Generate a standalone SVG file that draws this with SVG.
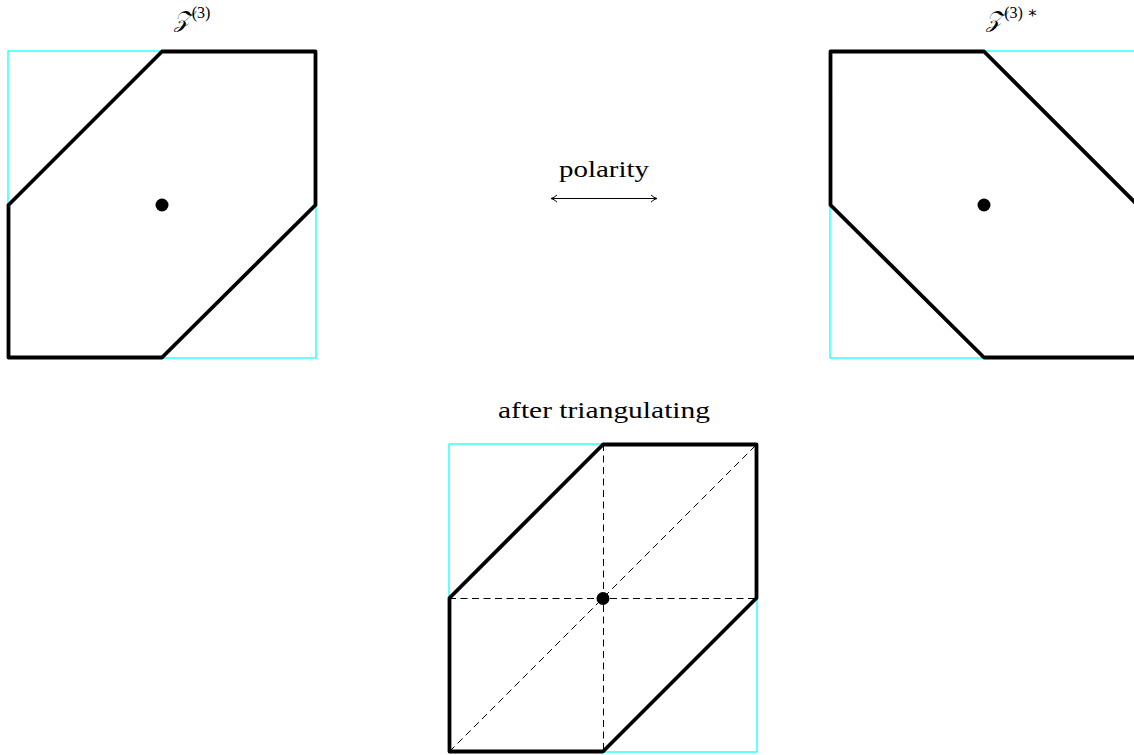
<svg xmlns="http://www.w3.org/2000/svg" width="1134" height="755" viewBox="0 0 1134 755">
<style>
.bg{fill:#fff}
.sq{fill:none;stroke:#00ffff;stroke-width:1.2}
.hex{fill:none;stroke:#000;stroke-width:3.8;stroke-linejoin:round}
.dash{fill:none;stroke:#000;stroke-width:1;stroke-dasharray:7,4.5}
.dot{fill:#000}
.lbl{font-family:"Liberation Serif","DejaVu Serif",serif;font-size:23px;fill:#000}
.conn{fill:none;stroke:#000;stroke-width:1}
</style>
<defs>
<marker id="ah" markerWidth="10" markerHeight="10" refX="7" refY="5" orient="auto-start-reverse" markerUnits="userSpaceOnUse">
<path d="M1,1.5 Q4,4.2 7,5 Q4,5.8 1,8.5" fill="none" stroke="#000" stroke-width="1"/>
</marker>
</defs>
<rect class="bg" x="0" y="0" width="1134" height="755"/>
<g id="z3">
<rect class="sq" x="8" y="51" width="308" height="307"/>
<polygon class="hex" points="8.5,205 162,51.5 315.5,51.5 315.5,205 162,357.5 8.5,357.5"/>
<circle class="dot" cx="162" cy="205" r="6.5"/>
<text class="lbl" x="192" y="27" text-anchor="middle"><tspan font-style="italic">𝒵</tspan><tspan font-size="16" dy="-9">(3)</tspan></text>
</g>
<g id="z3star">
<rect class="sq" x="830" y="51" width="308" height="307"/>
<polygon class="hex" points="830.5,51.5 984,51.5 1137.5,205 1137.5,357.5 984,357.5 830.5,205"/>
<circle class="dot" cx="984" cy="205" r="6.5"/>
<text class="lbl" x="1012" y="27" text-anchor="middle"><tspan font-style="italic">𝒵</tspan><tspan font-size="16" dy="-9">(3) ∗</tspan></text>
</g>
<g id="triangulated">
<rect class="sq" x="449" y="444" width="308" height="308"/>
<line class="dash" x1="603.5" y1="444" x2="603.5" y2="752"/>
<line class="dash" x1="449" y1="598.5" x2="757" y2="598.5"/>
<line class="dash" x1="449.5" y1="751.5" x2="756.5" y2="444.5"/>
<polygon class="hex" points="449.5,598 603,444.5 756.5,444.5 756.5,598 603,751.5 449.5,751.5"/>
<circle class="dot" cx="603" cy="598.5" r="6.5"/>
<text class="lbl" x="604" y="418" text-anchor="middle" textLength="212" lengthAdjust="spacingAndGlyphs">after triangulating</text>
</g>
<g id="connectors">
<line class="conn" x1="551" y1="198.5" x2="657" y2="198.5" marker-start="url(#ah)" marker-end="url(#ah)"/>
<text class="lbl" x="604" y="177" text-anchor="middle" textLength="90" lengthAdjust="spacingAndGlyphs">polarity</text>
</g>
</svg>
